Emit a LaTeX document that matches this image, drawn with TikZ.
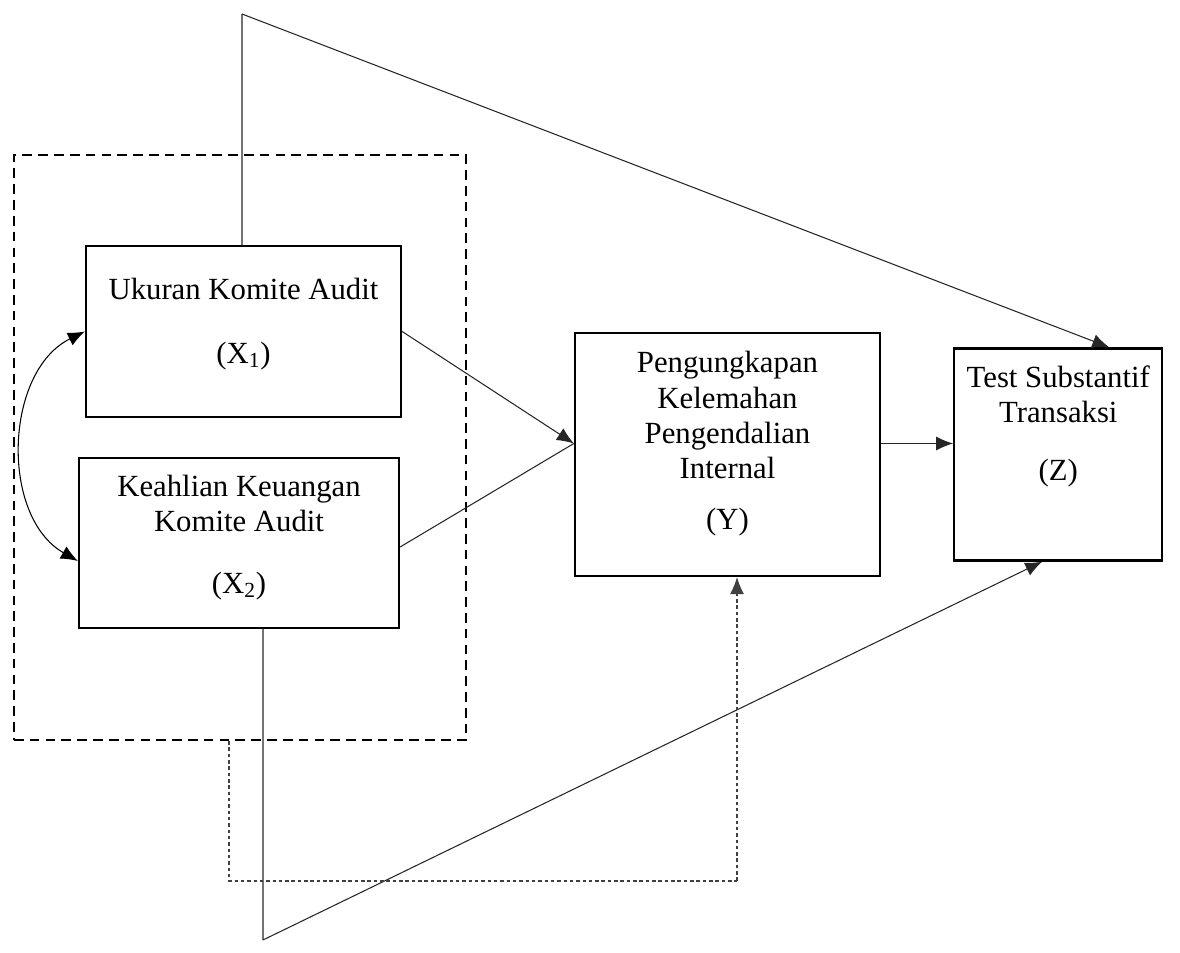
\documentclass[tikz,border=0pt]{standalone}
\usepackage{fontspec}
\setmainfont{Liberation Serif}
\usepackage{tikz}
\usetikzlibrary{arrows.meta, positioning, calc}

\begin{document}
\begin{tikzpicture}[
    varbox/.style={draw, line width=1.3pt, align=center, minimum width=#1, font=\fontsize{17.5}{20}\selectfont, inner sep=0pt},
    group/.style={draw, dash pattern=on 5.5pt off 3.5pt, line width=1.2pt, minimum width=9.04cm, minimum height=11.7cm},
    tip/.style={-{Latex[length=3.4mm,width=2.8mm]}},
    arrow/.style={tip, line width=0.6pt, color=black!85},
    plain/.style={line width=0.6pt, color=black!55},
    dotline/.style={dash pattern=on 2pt off 1.6pt, line width=0.6pt, color=black!75}
]
\useasboundingbox (0,0) rectangle (23.6,19.06);

\node[group] (grp) at (4.8,10.11) {};

\node[varbox=6.3cm, minimum height=3.42cm] (x1) at (4.87,12.43) {Ukuran Komite Audit\\[16pt](X\textsubscript{1})\\[-8pt]\mbox{}};
\node[varbox=6.4cm, minimum height=3.4cm] (x2) at (4.78,8.2) {Keahlian Keuangan\\Komite Audit\\[15pt](X\textsubscript{2})\\[-10pt]\mbox{}};
\node[varbox=6.1cm, minimum height=4.86cm] (y) at (14.55,9.97) {Pengungkapan\\Kelemahan\\Pengendalian\\Internal\\[9pt](Y)\\[-4pt]\mbox{}};
\node[varbox=4.16cm, minimum height=4.24cm, right=1.44cm of y] (z) {Test Substantif\\Transaksi\\[13pt](Z)\\[16pt]\mbox{}};

% top and bottom bends
\coordinate (top) at (4.84,18.78);
\coordinate (low) at (5.26,0.26);
\coordinate (dl) at (4.58,1.44);
\coordinate (dr) at (14.74,1.44);

\draw[arrow] ([yshift=0.22cm]y.east) -- ([yshift=0.22cm]y.east -| z.west);
\draw[arrow] (x1.east) -- ([yshift=0.22cm]y.west);
\draw[plain, color=black!85] ([yshift=-0.08cm]x2.east) -- ([yshift=0.22cm]y.west);
\draw[{Latex[length=3.4mm,width=2.8mm]}-{Latex[length=3.4mm,width=2.8mm]}, line width=0.6pt] (x1.west) to[bend right=62] ([yshift=-0.36cm]x2.west);

\draw[plain] (x1.north -| top) -- (top);
\draw[arrow] (top) -- ([xshift=1.02cm]z.north);
\draw[plain] (x2.south -| low) -- (low);
\draw[arrow] (low) -- ([xshift=-0.32cm]z.south);

\draw[dotline] (grp.south -| dl) -- (dl) -- (dr);
\draw[dotline, tip] (dr) -- (y.south -| dr);

\end{tikzpicture}
\end{document}
